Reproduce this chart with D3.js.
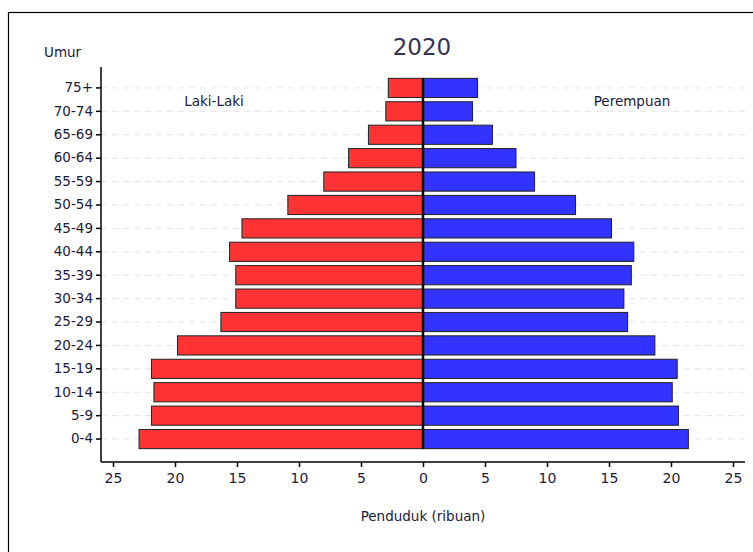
<!DOCTYPE html>
<html><head><meta charset="UTF-8"><script src="https://cdn.jsdelivr.net/npm/d3@7"></script>
<style>body{margin:0;background:#fff;font-family:Arial,"Liberation Sans",sans-serif;}</style></head>
<body><svg id="c" width="753" height="552"></svg>
<script>
const ageGroups = ["75+","70-74","65-69","60-64","55-59","50-54","45-49","40-44","35-39","30-34","25-29","20-24","15-19","10-14","5-9","0-4"];
const male = [2.8,3.0,4.4,6.0,8.0,10.9,14.6,15.6,15.1,15.1,16.3,19.8,21.9,21.7,21.9,22.9];
const female = [4.4,4.0,5.6,7.5,9.0,12.3,15.2,17.0,16.8,16.2,16.5,18.7,20.5,20.1,20.6,21.4];
const xTicks = [-25,-20,-15,-10,-5,0,5,10,15,20,25];

const svg = d3.select("#c");
const txt = "#1a1a3a";
const font = "'DejaVu Sans',Verdana,sans-serif";
svg.append("rect").attr("x",8.5).attr("y",12.5).attr("width",760).attr("height",560).attr("fill","none").attr("stroke","#000").attr("stroke-width",1.2);

const x = d3.scaleLinear().domain([-25,25]).range([113,733]);
const y = d3.scaleBand().domain(ageGroups).range([76,451]).paddingInner(0.18).paddingOuter(0.1);
const left = 101, bottom = 462;

svg.append("g").selectAll("line").data(ageGroups).join("line")
  .attr("x1",left).attr("x2",745).attr("y1",d=>y(d)+y.bandwidth()/2).attr("y2",d=>y(d)+y.bandwidth()/2)
  .attr("stroke","#e3e3e3").attr("stroke-dasharray","6,5");

svg.append("g").selectAll("rect").data(ageGroups).join("rect")
  .attr("x",(d,i)=>x(-male[i])).attr("width",(d,i)=>x(0)-x(-male[i]))
  .attr("y",d=>y(d)).attr("height",y.bandwidth())
  .attr("fill","#ff3333").attr("stroke","#222").attr("stroke-width",1);
svg.append("g").selectAll("rect").data(ageGroups).join("rect")
  .attr("x",x(0)).attr("width",(d,i)=>x(female[i])-x(0))
  .attr("y",d=>y(d)).attr("height",y.bandwidth())
  .attr("fill","#3333ff").attr("stroke","#222").attr("stroke-width",1);
svg.append("line").attr("x1",x(0)).attr("x2",x(0)).attr("y1",y(ageGroups[0])).attr("y2",y("0-4")+y.bandwidth())
  .attr("stroke","#000").attr("stroke-width",2.5);

const yAxis = svg.append("g").attr("transform",`translate(${left},0)`)
  .call(d3.axisLeft(y).tickSize(5).tickPadding(3));
yAxis.select(".domain").attr("d",`M0,67V${bottom}`).attr("stroke-width",1.5);
yAxis.selectAll("text").attr("font-size",13.5).attr("fill",txt).attr("font-family",font);
yAxis.selectAll(".tick line").attr("stroke-width",1.5);

const xAxis = svg.append("g").attr("transform",`translate(0,${bottom})`)
  .call(d3.axisBottom(x).tickValues(xTicks).tickFormat(d=>Math.abs(d)).tickSize(5).tickPadding(6));
xAxis.select(".domain").attr("d",`M${left},0H745`).attr("stroke-width",1.5);
xAxis.selectAll("text").attr("font-size",14).attr("fill",txt).attr("font-family",font);
xAxis.selectAll(".tick line").attr("stroke-width",1.5);

svg.append("text").attr("x",422).attr("y",55).attr("text-anchor","middle").attr("font-size",23).attr("font-family",font).attr("fill","#333355").text("2020");
svg.append("text").attr("x",44).attr("y",57).attr("font-size",13.5).attr("font-family",font).attr("fill",txt).text("Umur");
svg.append("text").attr("x",214).attr("y",106).attr("text-anchor","middle").attr("font-size",13.5).attr("font-family",font).attr("fill",txt).text("Laki-Laki");
svg.append("text").attr("x",632).attr("y",106).attr("text-anchor","middle").attr("font-size",13.5).attr("font-family",font).attr("fill",txt).text("Perempuan");
svg.append("text").attr("x",423).attr("y",521).attr("text-anchor","middle").attr("font-size",13.5).attr("font-family",font).attr("fill",txt).text("Penduduk (ribuan)");
</script></body></html>
